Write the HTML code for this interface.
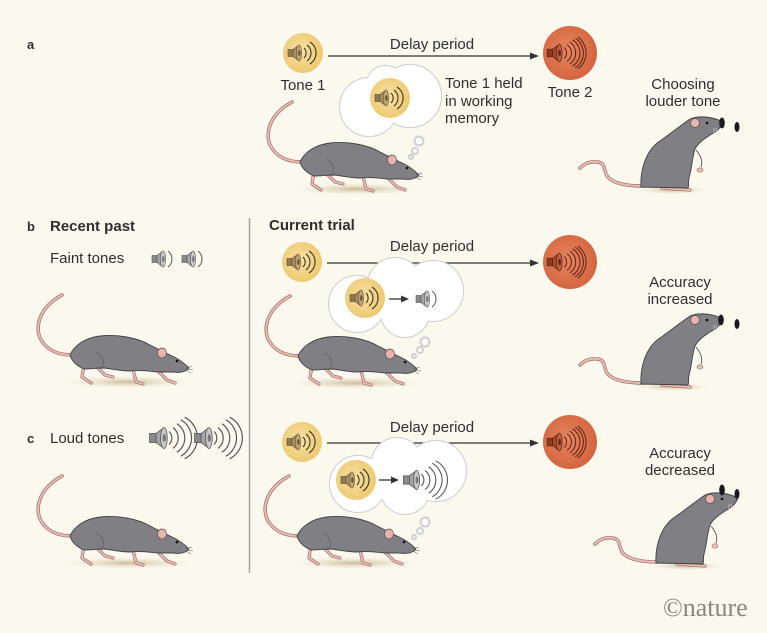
<!DOCTYPE html>
<html><head><meta charset="utf-8">
<style>
html,body{margin:0;padding:0;background:#fbf8ee;}
svg{display:block;}
text{font-family:"Liberation Sans",Arial,sans-serif;fill:#2e2e2e;font-size:15px;}
.b{font-weight:bold;}
.m{text-anchor:middle;}
</style></head><body>
<svg width="767" height="633" viewBox="0 0 767 633" xmlns="http://www.w3.org/2000/svg">
<defs>
<radialGradient id="gY" cx="45%" cy="45%" r="60%"><stop offset="0" stop-color="#f8e2a6"/><stop offset="1" stop-color="#ecc76c"/></radialGradient>
<radialGradient id="gO" cx="45%" cy="45%" r="60%"><stop offset="0" stop-color="#e5855f"/><stop offset="1" stop-color="#d2633e"/></radialGradient>
<radialGradient id="gS"><stop offset="0" stop-color="#c9b994" stop-opacity="0.95"/><stop offset="1" stop-color="#e9dfc8" stop-opacity="0"/></radialGradient>

<g id="spkY">
 <rect x="-8" y="-3.5" width="5" height="7" fill="#8f7b52" stroke="#5e4f33" stroke-width="0.6"/>
 <path d="M-3,-3.5 L3,-8 L3,8 L-3,3.5Z" fill="#a88f5f" stroke="#5e4f33" stroke-width="0.6"/>
 <ellipse cx="3" cy="0" rx="2.6" ry="8" fill="#c2a775" stroke="#5e4f33" stroke-width="0.6"/>
 <ellipse cx="3.3" cy="0" rx="1.3" ry="3" fill="#6e5b38"/>
 <path d="M8,-5 A7,7 0 0 1 8,5 M11,-8 A10,10 0 0 1 11,8 M14,-11 A13,13 0 0 1 14,11" fill="none" stroke="#3d3322" stroke-width="1.1"/>
</g>
<g id="spkO">
 <rect x="-8" y="-3.5" width="5" height="7" fill="#8d3a22" stroke="#5a2414" stroke-width="0.6"/>
 <path d="M-3,-3.5 L3,-8 L3,8 L-3,3.5Z" fill="#a8482c" stroke="#5a2414" stroke-width="0.6"/>
 <ellipse cx="3" cy="0" rx="2.6" ry="8" fill="#c0603f" stroke="#5a2414" stroke-width="0.6"/>
 <ellipse cx="3.3" cy="0" rx="1.3" ry="3" fill="#6a2a18"/>
 <path d="M7.5,-5 A7,7 0 0 1 7.5,5 M10,-7.5 A9,9 0 0 1 10,7.5 M12.5,-10 A12,12 0 0 1 12.5,10 M15,-12 A14,14 0 0 1 15,12 M17.5,-13.5 A16,16 0 0 1 17.5,13.5 M20,-14.5 A18,18 0 0 1 20,14.5" fill="none" stroke="#5a2414" stroke-width="0.9"/>
</g>
<g id="spkG">
 <rect x="-8" y="-3.5" width="5" height="7" fill="#8a8a8a" stroke="#555" stroke-width="0.6"/>
 <path d="M-3,-3.5 L3,-8 L3,8 L-3,3.5Z" fill="#a5a5a5" stroke="#555" stroke-width="0.6"/>
 <ellipse cx="3" cy="0" rx="2.6" ry="8" fill="#c8c8c8" stroke="#555" stroke-width="0.6"/>
 <ellipse cx="3.3" cy="0" rx="1.3" ry="3" fill="#777"/>
</g>
<g id="spkF">
 <use href="#spkG"/>
 <path d="M8,-8 A10,10 0 0 1 8,8" fill="none" stroke="#555" stroke-width="1"/>
</g>
<g id="spkL">
 <use href="#spkG"/>
 <path d="M7,-5 A7,7 0 0 1 7,5 M10,-8 A10,10 0 0 1 10,8 M13,-11 A13,13 0 0 1 13,11 M16,-14 A16,16 0 0 1 16,14 M19,-16 A18,18 0 0 1 19,16" fill="none" stroke="#555" stroke-width="0.9"/>
</g>

<g id="wm">
 <ellipse cx="127" cy="382" rx="64" ry="6" fill="url(#gS)"/>
 <path d="M72,355 C58,355 46,350 40,338 C35,325 40,307 62,295" fill="none" stroke="#9a6a66" stroke-width="3.4" stroke-linecap="round"/>
 <path d="M72,355 C58,355 46,350 40,338 C35,325 40,307 62,295" fill="none" stroke="#ebbcb5" stroke-width="2" stroke-linecap="round"/>
 <path d="M84,364 L82,377 L91,383 M97,367 L105,375 L113,377 M133,369 L136,382 L143,384 M157,370 L167,380 L175,383" fill="none" stroke="#9a6a66" stroke-width="3.2" stroke-linecap="round" stroke-linejoin="round"/>
 <path d="M84,364 L82,377 L91,383 M97,367 L105,375 L113,377 M133,369 L136,382 L143,384 M157,370 L167,380 L175,383" fill="none" stroke="#ebbcb5" stroke-width="1.9" stroke-linecap="round" stroke-linejoin="round"/>
 <path d="M70,355 C74,346 84,338 100,336 C118,334 138,338 150,345 C158,349 165,353 172,356 C179,359 185,364 189,368 C186,372 180,373 173,372 C167,372 162,372 157,372 C148,371 140,370 130,371 C120,371 112,369 105,368 C97,368 90,369 84,369 C77,366 72,362 70,355Z" fill="#7f7f84" stroke="#404046" stroke-width="0.9"/>
 <path d="M96,352 C104,356 106,364 100,369" fill="none" stroke="#55555a" stroke-width="0.6"/>
 <ellipse cx="162" cy="353" rx="4.5" ry="5" fill="#e8b3ad" stroke="#555" stroke-width="0.7"/>
 <circle cx="177" cy="361" r="1.3" fill="#111"/>
 <path d="M186,368 l6,-2 M186,369 l7,1 M186,370 l5,3" stroke="#555" stroke-width="0.5"/>
</g>

<g id="rm">
 <ellipse cx="672" cy="190" rx="38" ry="4" fill="url(#gS)"/>
 <path d="M644,186 C625,186 612,183 607,176 C603,169 606,163 597,162 C590,161 584,164 580,168" fill="none" stroke="#9a6a66" stroke-width="3.4" stroke-linecap="round"/>
 <path d="M644,186 C625,186 612,183 607,176 C603,169 606,163 597,162 C590,161 584,164 580,168" fill="none" stroke="#ebbcb5" stroke-width="2" stroke-linecap="round"/>
 <path d="M662,188 L690,190 M670,186 L686,187" fill="none" stroke="#9a6a66" stroke-width="3.2" stroke-linecap="round"/>
 <path d="M662,188 L690,190 M670,186 L686,187" fill="none" stroke="#ebbcb5" stroke-width="1.9" stroke-linecap="round"/>
 <path d="M641,187 C640,170 646,150 660,141 C670,134 680,126 690,119 C700,115 713,117 723,122 C721,128 716,132 710,135 C704,139 698,143 695,149 C692,158 692,168 689,178 C688,183 689,186 688,188 Z" fill="#7f7f84" stroke="#404046" stroke-width="0.9"/>
 <path d="M696,150 C701,156 703,162 701,167" fill="none" stroke="#404046" stroke-width="0.8"/>
 <ellipse cx="700" cy="170" rx="3" ry="2.2" fill="#ebbcb5" stroke="#9a6a66" stroke-width="0.6"/>
 <ellipse cx="695" cy="123" rx="4.5" ry="4.5" fill="#e8b3ad" stroke="#555" stroke-width="0.7"/>
 <circle cx="707" cy="123" r="1.3" fill="#111"/>
 <path d="M716,128 l2,7 M714,128 l0,7" stroke="#ddd" stroke-width="0.6"/>
</g>
</defs>

<rect width="767" height="633" fill="#fbf8ee"/>

<!-- Panel a -->
<text x="27" y="49" class="b" style="font-size:13px">a</text>
<line x1="328" y1="56" x2="532" y2="56" stroke="#333" stroke-width="1.3"/>
<polygon points="539,56 530,52.5 530,59.5" fill="#333"/>
<text x="432" y="49" class="m">Delay period</text>
<circle cx="303" cy="53" r="20" fill="url(#gY)"/>
<use href="#spkY" transform="translate(296,53)"/>
<text x="303" y="90" class="m">Tone 1</text>
<circle cx="570" cy="53" r="27" fill="url(#gO)"/>
<use href="#spkO" transform="translate(556,53) scale(1.1)"/>
<text x="570" y="97" class="m">Tone 2</text>

<use href="#wm" transform="translate(230,-193)"/>
<g stroke="#d2d2d2" stroke-width="2.2" fill="#fff">
 <circle cx="369" cy="107" r="29"/><circle cx="410" cy="96" r="31"/><circle cx="385" cy="84" r="18"/>
 <circle cx="419" cy="141" r="4.5"/><circle cx="415" cy="151" r="3"/><circle cx="411" cy="157" r="2"/>
</g>
<g fill="#fff">
 <circle cx="369" cy="107" r="29"/><circle cx="410" cy="96" r="31"/><circle cx="385" cy="84" r="18"/>
</g>
<circle cx="390" cy="98" r="20" fill="url(#gY)"/>
<use href="#spkY" transform="translate(383,98)"/>
<text x="445" y="88">Tone 1 held</text>
<text x="445" y="106">in working</text>
<text x="445" y="123">memory</text>

<text x="683" y="89" class="m">Choosing</text>
<text x="683" y="106" class="m">louder tone</text>
<use href="#rm"/>
<ellipse cx="722" cy="123" rx="2.8" ry="5.5" fill="#1a1a1a"/>
<ellipse cx="737" cy="127" rx="2.5" ry="5" fill="#1a1a1a"/>

<!-- divider -->
<line x1="249.5" y1="218" x2="249.5" y2="573" stroke="#a3a3a3" stroke-width="1.5"/>

<!-- Panel b -->
<text x="27" y="231" class="b" style="font-size:13px">b</text>
<text x="50" y="231" class="b">Recent past</text>
<text x="50" y="263">Faint tones</text>
<use href="#spkF" transform="translate(160,259)"/>
<use href="#spkF" transform="translate(190,259)"/>
<use href="#wm"/>

<text x="269" y="230" class="b">Current trial</text>
<line x1="327" y1="263" x2="532" y2="263" stroke="#333" stroke-width="1.3"/>
<polygon points="539,263 530,259.5 530,266.5" fill="#333"/>
<text x="432" y="251" class="m">Delay period</text>
<circle cx="302" cy="262" r="20" fill="url(#gY)"/>
<use href="#spkY" transform="translate(295,262)"/>
<circle cx="570" cy="262" r="27" fill="url(#gO)"/>
<use href="#spkO" transform="translate(556,262) scale(1.1)"/>

<use href="#wm" transform="translate(228,1)"/>
<g stroke="#d2d2d2" stroke-width="2.2" fill="#fff">
 <circle cx="357" cy="304" r="28"/><circle cx="395" cy="285" r="27"/><circle cx="433" cy="291" r="30"/><circle cx="405" cy="313" r="24"/>
 <circle cx="425" cy="342" r="4.5"/><circle cx="420" cy="350" r="3"/><circle cx="414" cy="356" r="2"/>
</g>
<g fill="#fff">
 <circle cx="357" cy="304" r="28"/><circle cx="395" cy="285" r="27"/><circle cx="433" cy="291" r="30"/><circle cx="405" cy="313" r="24"/>
</g>
<circle cx="365" cy="298" r="20" fill="url(#gY)"/>
<use href="#spkY" transform="translate(358,298)"/>
<line x1="389" y1="299" x2="403" y2="299" stroke="#333" stroke-width="1.3"/>
<polygon points="409,299 401,295.5 401,302.5" fill="#333"/>
<use href="#spkF" transform="translate(424,299)"/>

<text x="680" y="287" class="m">Accuracy</text>
<text x="680" y="304" class="m">increased</text>
<use href="#rm" transform="translate(0,197)"/>
<ellipse cx="721" cy="320" rx="2.8" ry="5.5" fill="#1a1a1a"/>
<ellipse cx="737" cy="324" rx="2.5" ry="5" fill="#1a1a1a"/>

<!-- Panel c -->
<text x="27" y="443" class="b" style="font-size:13px">c</text>
<text x="50" y="443">Loud tones</text>
<use href="#spkL" transform="translate(160,438) scale(1.3)"/>
<use href="#spkL" transform="translate(205,438) scale(1.3)"/>
<use href="#wm" transform="translate(0,181)"/>

<line x1="327" y1="443" x2="532" y2="443" stroke="#333" stroke-width="1.3"/>
<polygon points="539,443 530,439.5 530,446.5" fill="#333"/>
<text x="432" y="432" class="m">Delay period</text>
<circle cx="302" cy="442" r="20" fill="url(#gY)"/>
<use href="#spkY" transform="translate(295,442)"/>
<circle cx="570" cy="442" r="27" fill="url(#gO)"/>
<use href="#spkO" transform="translate(556,442) scale(1.1)"/>

<use href="#wm" transform="translate(227,181)"/>
<g stroke="#d2d2d2" stroke-width="2.2" fill="#fff">
 <circle cx="358" cy="484" r="28"/><circle cx="397" cy="463" r="25"/><circle cx="436" cy="471" r="30"/><circle cx="405" cy="490" r="24"/>
 <circle cx="425" cy="522" r="4.5"/><circle cx="420" cy="531" r="3"/><circle cx="414" cy="537" r="2"/>
</g>
<g fill="#fff">
 <circle cx="358" cy="484" r="28"/><circle cx="397" cy="463" r="25"/><circle cx="436" cy="471" r="30"/><circle cx="405" cy="490" r="24"/>
</g>
<circle cx="356" cy="480" r="20" fill="url(#gY)"/>
<use href="#spkY" transform="translate(349,480)"/>
<line x1="379" y1="480" x2="393" y2="480" stroke="#333" stroke-width="1.3"/>
<polygon points="399,480 391,476.5 391,483.5" fill="#333"/>
<use href="#spkL" transform="translate(413,480) scale(1.2)"/>

<text x="680" y="458" class="m">Accuracy</text>
<text x="680" y="475" class="m">decreased</text>
<use href="#rm" transform="translate(15,376)"/>
<ellipse cx="722" cy="490" rx="2.8" ry="5.5" fill="#1a1a1a"/>
<ellipse cx="737" cy="494" rx="2.5" ry="5" fill="#1a1a1a"/>

<text x="663" y="616" style="font-family:'Liberation Serif',serif;font-size:26px;fill:#8c877e">©nature</text>
</svg>
</body></html>
